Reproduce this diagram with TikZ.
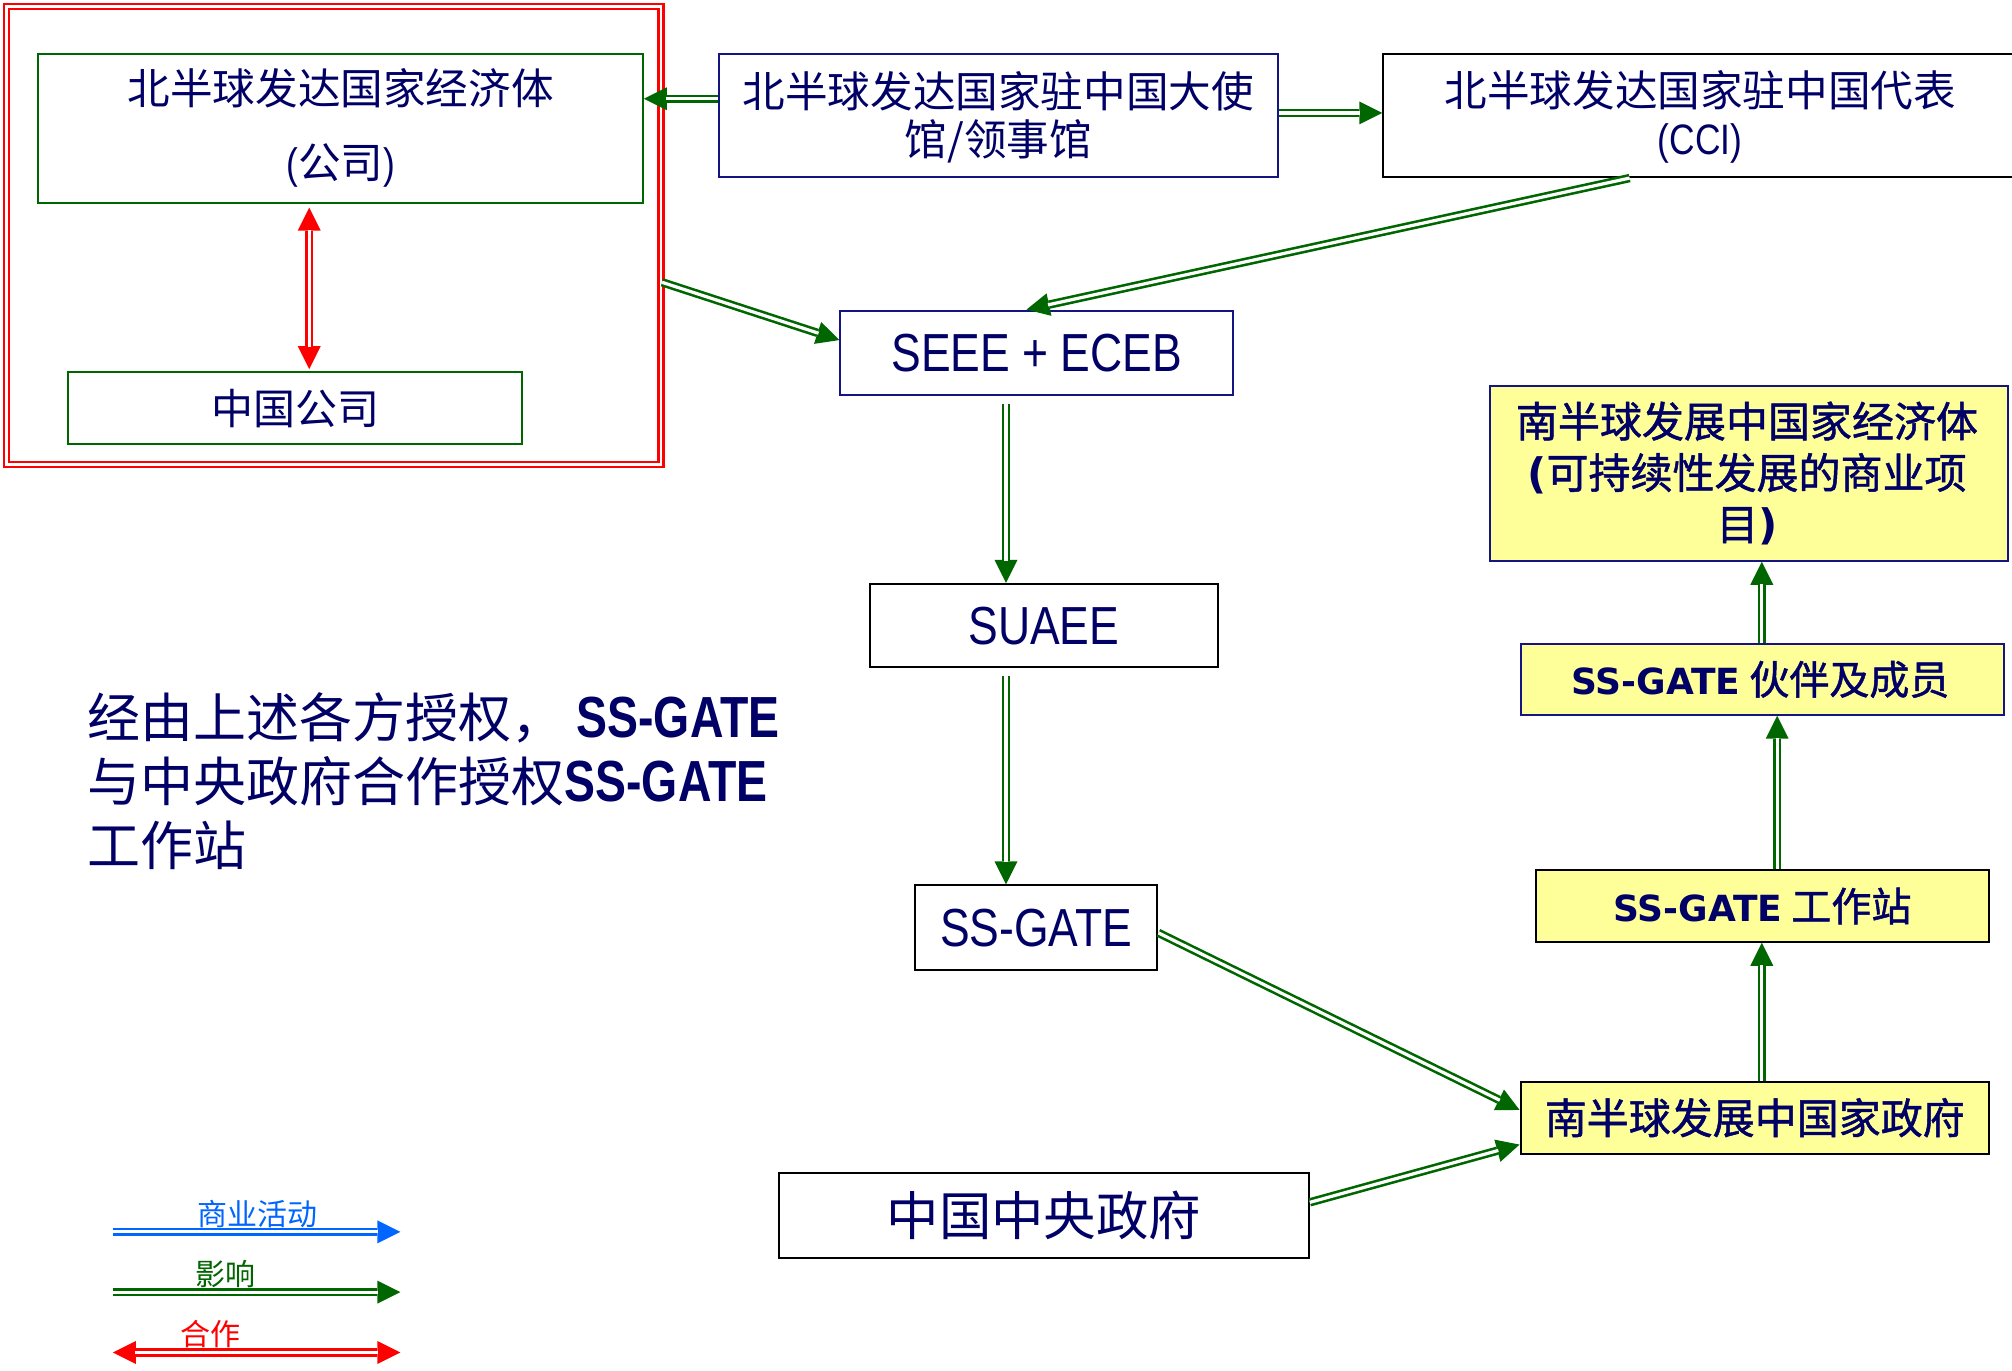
\documentclass[tikz,border=0pt]{standalone}
\usepackage{fontspec}
\setmainfont{Noto Sans CJK SC}
\newfontfamily\cjkb[FakeBold=1.2]{Noto Sans CJK SC}
\newfontfamily\cond[FakeStretch=0.83]{Liberation Sans}
\newfontfamily\condn[FakeStretch=0.8]{Liberation Sans}
\newfontfamily\verd{DejaVu Sans}
\usetikzlibrary{arrows.meta,fit,calc}
\definecolor{navy}{RGB}{0,0,102}
\definecolor{grn}{RGB}{0,102,0}
\definecolor{bordblue}{RGB}{20,20,130}
\definecolor{yel}{RGB}{255,255,153}
\definecolor{lblue}{RGB}{0,102,255}
\tikzset{
  box/.style={rectangle, draw, line width=1pt, inner sep=0pt},
  gbox/.style={box, draw=grn},
  bbox/.style={box, draw=bordblue},
  kbox/.style={box, draw=black},
  ybox/.style={box, fill=yel, draw=bordblue},
  ykbox/.style={box, fill=yel, draw=black},
  txt/.style={text=navy, align=center, inner sep=0pt},
  tipA/.tip={Triangle[length=11.5pt,width=11.5pt,line width=0pt]},
  inf/.style={draw=grn, line width=4.2pt, -tipA,
    postaction={draw=white, line width=1.6pt, -, shorten >=11pt}},
  biz/.style={draw=lblue, line width=4.2pt, -tipA,
    postaction={draw=white, line width=1.6pt, -, shorten >=11pt}},
  coop/.style={draw=red, line width=4.2pt, tipA-tipA,
    postaction={draw=white, line width=1.6pt, -, shorten >=11pt, shorten <=11pt}},
}
\begin{document}
\begin{tikzpicture}[x=0.6416pt,y=-0.6416pt]
\useasboundingbox (0,0) rectangle (1568,1068);
\clip (0,0) rectangle (1568,1068);
\fill[white] (0,0) rectangle (1568,1068);

% red frame
\node[rectangle, draw=red, double=white, line width=1.25pt, double distance=1.3pt, inner sep=0pt, fit={(5,5) (515,362)}] (frame) {};

% boxes
\node[gbox, fit={(30,42) (501,158)}] (n1) {};
\node[txt, font=\fontsize{21.3}{25}\selectfont] (n1t) at (n1.center) {北半球发达国家经济体\\[12pt]{\cond(}公司{\cond)}};
\node[gbox, fit={(53,290) (407,346)}] (cc) {};
\node[txt, font=\fontsize{21}{25}\selectfont] (cct) at (cc.center) {中国公司};

\node[bbox, fit={(560,42) (996,138)}] (emb) {};
\node[txt, font=\fontsize{21.3}{24}\selectfont] (embt) at ([yshift=-1pt]emb.center) {北半球发达国家驻中国大使\\馆/领事馆};

\node[kbox, fit={(1078,42) (1600,138)}] (cci) {};
\node[txt, font=\fontsize{21.3}{24}\selectfont] (ccit) at (1325,91) {北半球发达国家驻中国代表\\{\cond (CCI)}};

\node[bbox, fit={(655,242) (961,308)}] (seee) {};
\node[txt, font=\cond\fontsize{26.8}{30}\selectfont] (seeet) at (seee.center) {SEEE + ECEB};

\node[kbox, fit={(678,455) (949,520)}] (suaee) {};
\node[txt, font=\cond\fontsize{26.8}{30}\selectfont] (suaeet) at (suaee.center) {SUAEE};

\node[kbox, fit={(713,690) (902,756)}] (ssg) {};
\node[txt, font=\cond\fontsize{26.8}{30}\selectfont] (ssgt) at (ssg.center) {SS-GATE};

\node[kbox, fit={(607,914) (1020,980)}] (cgov) {};
\node[txt, font=\fontsize{26.2}{30}\selectfont] (cgovt) at (cgov.center) {中国中央政府};

\node[ybox, fit={(1161,301) (1565,437)}] (sec) {};
\node[txt, font=\cjkb\fontsize{21}{25.7}\selectfont] (sect) at ([xshift=-1pt]sec.center) {南半球发展中国家经济体\\{\verd\bfseries(}可持续性发展的商业项\\目{\verd\bfseries)}};

\node[ybox, fit={(1185,502) (1562,557)}] (pm) {};
\node[txt, font=\cjkb\fontsize{20}{24}\selectfont] (pmt) at ([xshift=-1pt]pm.center) {{\verd\bfseries\fontsize{18}{20}\selectfont SS-GATE} 伙伴及成员};

\node[ykbox, fit={(1197,678) (1550,734)}] (ws) {};
\node[txt, font=\cjkb\fontsize{20}{24}\selectfont] (wst) at (ws.center) {{\verd\bfseries\fontsize{18}{20}\selectfont SS-GATE} 工作站};

\node[ykbox, fit={(1185,843) (1550,899)}] (sgov) {};
\node[txt, font=\cjkb\fontsize{21}{24}\selectfont] (sgovt) at (sgov.center) {南半球发展中国家政府};

% left note
\node[txt, anchor=west, align=left, font=\fontsize{26.5}{32}\selectfont] (note) at (68,609)
 {经由上述各方授权，\hspace{6pt}{\condn\bfseries\fontsize{29}{32}\selectfont SS-GATE}\\与中央政府合作授权{\condn\bfseries\fontsize{29}{32}\selectfont SS-GATE}\\工作站};

% connectors
\draw[inf] (emb.west |- 0,77) -- (n1.east |- 0,77);
\draw[inf] (emb.east |- 0,88) -- (cci.west |- 0,88);
\draw[inf] (cci.south -| 1270,0) -- (seee.north -| 800,0);
\draw[inf] (frame.east |- 0,220) -- (seee.west |- 0,265);
\draw[inf] ([yshift=-4pt]seee.south -| 784,0) -- (suaee.north -| 784,0);
\draw[inf] ([yshift=-4pt]suaee.south -| 784,0) -- (ssg.north -| 784,0);
\draw[inf] (ssg.east |- 0,727) -- (sgov.west |- 0,865);
\draw[inf] (cgov.east |- 0,937) -- (sgov.west |- 0,892);
\draw[inf] (sgov.north -| 1373,0) -- (ws.south -| 1373,0);
\draw[inf] (ws.north -| 1385,0) -- (pm.south -| 1385,0);
\draw[inf] (pm.north -| 1373,0) -- (sec.south -| 1373,0);
\draw[coop] ([yshift=-2pt]n1.south -| 241,0) -- ([yshift=1pt]cc.north -| 241,0);

% legend
\coordinate (l1a) at (88,960); \coordinate (l1b) at (312,960);
\coordinate (l2a) at (88,1007); \coordinate (l2b) at (312,1007);
\coordinate (l3a) at (88,1054); \coordinate (l3b) at (312,1054);
\draw[biz] (l1a) -- (l1b);
\draw[inf] (l2a) -- (l2b);
\draw[coop] (l3a) -- (l3b);
\node[text=lblue, inner sep=0pt, font=\fontsize{15}{18}\selectfont] (lg1) at (201,946) {商业活动};
\node[text=grn, inner sep=0pt, font=\fontsize{15}{18}\selectfont] (lg2) at (176,993) {影响};
\node[text=red, inner sep=0pt, font=\fontsize{15}{18}\selectfont] (lg3) at (164,1040) {合作};
\end{tikzpicture}
\end{document}
